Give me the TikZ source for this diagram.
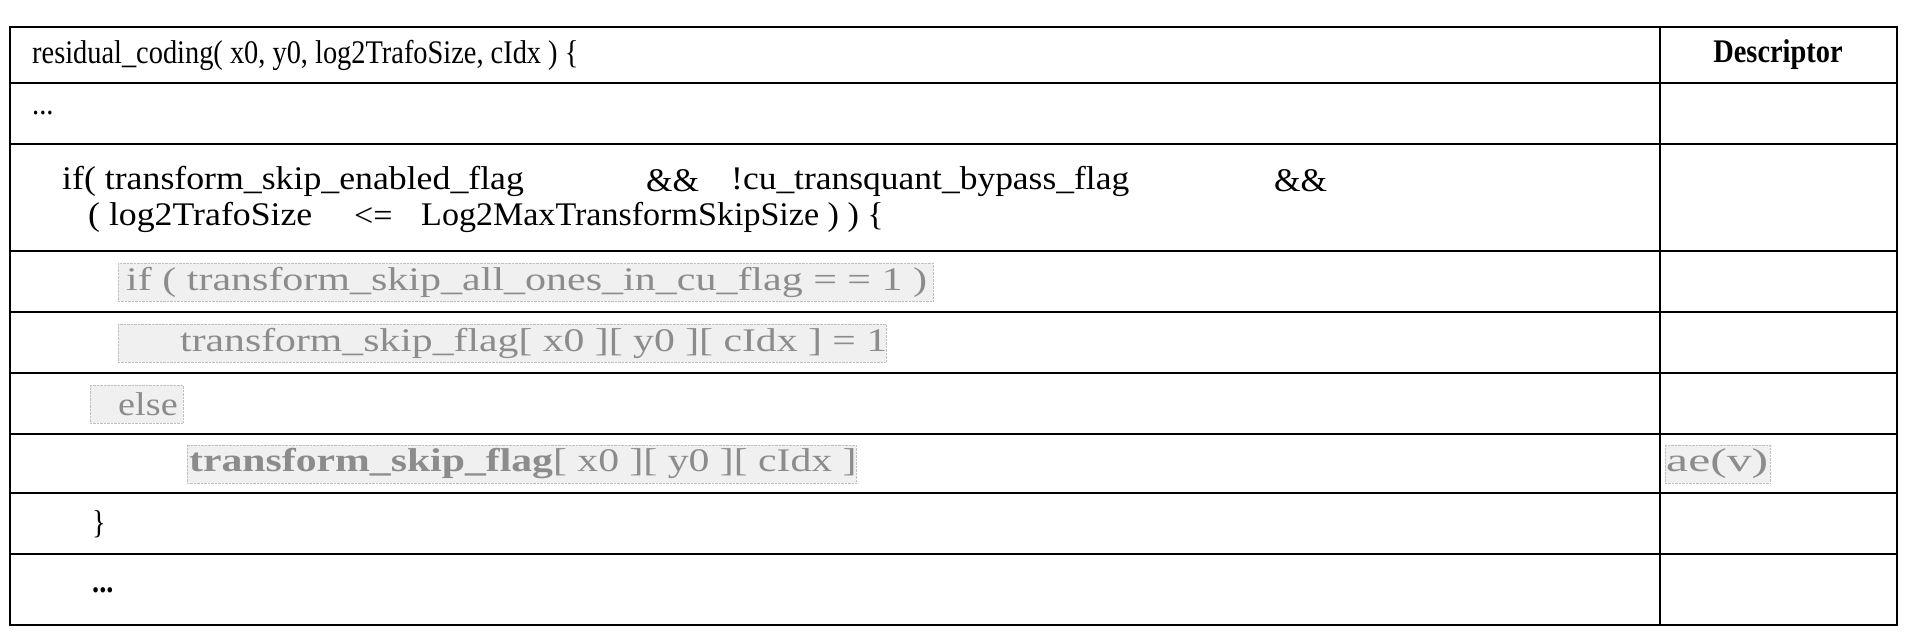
\documentclass[tikz,border=0pt]{standalone}
\usepackage{fontspec}
\setmainfont[FakeStretch=0.86]{Liberation Serif}
\begin{document}
\begin{tikzpicture}[x=1pt,y=-1pt,
  txt/.style={anchor=west,inner sep=0pt,font=\fontsize{33}{38}\selectfont},
  gtxt/.style={txt,text=black!45},
  gbox/.style={fill=black!6,draw=black!25,densely dotted},
  rule/.style={line width=2.2pt}]
\useasboundingbox (0,0) rectangle (1911,637);
\draw[rule] (10,27) rectangle (1897,625);
\draw[rule] (1660,27) -- (1660,625);
\foreach \y in {83,144,251,312,373,434,493,554}
  \draw[rule] (10,\y) -- (1897,\y);
\node[txt] (h) at (32,55) {residual\_coding( x0, y0, log2TrafoSize, cIdx ) \{};
\node[txt,font=\bfseries\fontsize{33}{38}\selectfont,anchor=center] (d) at (1778,55) {Descriptor};
\node[txt] (dots) at (32,113) {...};
\node[txt] (if1a) at (62,181) {\scalebox{1.26}[1]{if( transform\_skip\_enabled\_flag}};
\node[txt] (if1b) at (646,181) {\scalebox{1.2}[1]{\&\&}};
\node[txt] (if1c) at (731,181) {\scalebox{1.25}[1]{!cu\_transquant\_bypass\_flag}};
\node[txt] (if1d) at (1274,181) {\scalebox{1.2}[1]{\&\&}};
\node[txt] (if2a) at (88,217) {\scalebox{1.26}[1]{( log2TrafoSize}};
\node[txt] (if2b) at (354,217) {\scalebox{1.2}[1]{<=}};
\node[txt] (if2c) at (421,217) {\scalebox{1.2}[1]{Log2MaxTransformSkipSize ) ) \{}};
\fill[gbox] (118,263) rectangle (933,301);
\node[gtxt] (g1) at (126,282) {\scalebox{1.48}[1]{if ( transform\_skip\_all\_ones\_in\_cu\_flag = = 1 )}};
\fill[gbox] (118,324) rectangle (886,362);
\node[gtxt] (g2) at (180,343) {\scalebox{1.47}[1]{transform\_skip\_flag[ x0 ][ y0 ][ cIdx ] = 1}};
\fill[gbox] (90,385) rectangle (183,423);
\node[gtxt] (g3) at (118,404) {\scalebox{1.35}[1]{else}};
\fill[gbox] (187,445) rectangle (856,483);
\node[gtxt] (g4) at (189,464) {\scalebox{1.47}[1]{\textbf{transform\_skip\_flag}[ x0 ][ y0 ][ cIdx ]}};
\fill[gbox] (1665,445) rectangle (1770,483);
\node[gtxt] (ae) at (1666,464) {\scalebox{1.75}[1]{ae(v)}};
\node[txt] (cl) at (92,524) {\}};
\node[txt,font=\bfseries\fontsize{33}{38}\selectfont] (dd) at (92,590) {...};
\end{tikzpicture}
\end{document}
